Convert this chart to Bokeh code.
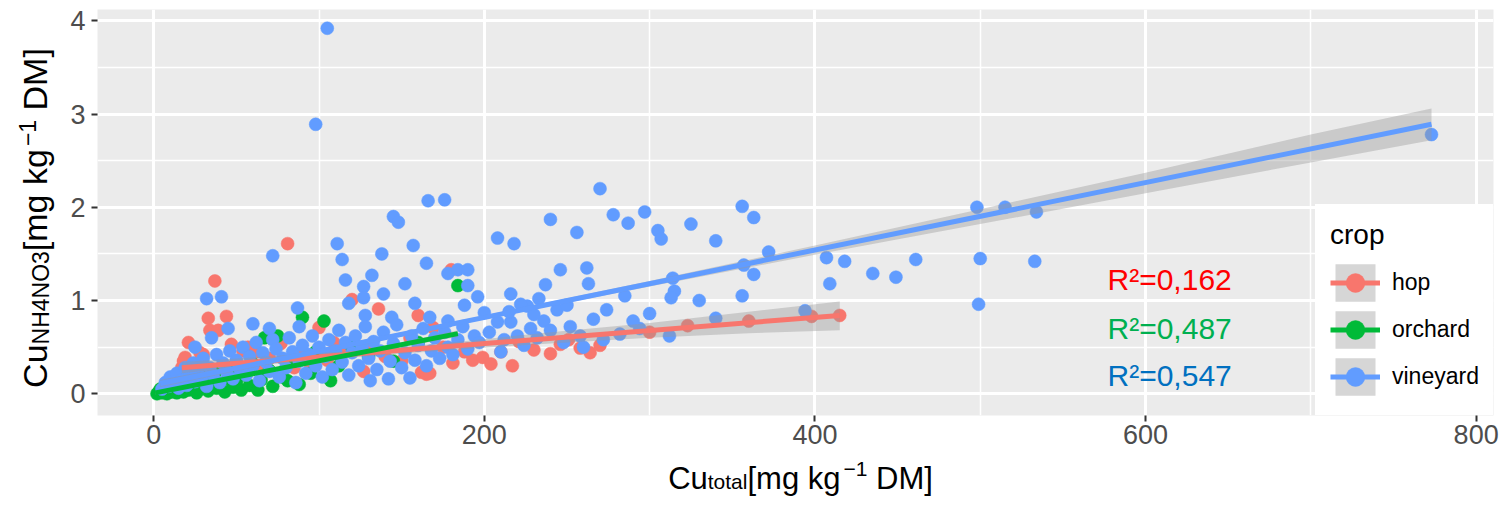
from bokeh.plotting import figure
from bokeh.layouts import row, column
from bokeh.models import Range1d, FixedTicker, Label, Legend, LegendItem
from bokeh.core.properties import value
from bokeh.embed import file_html
from bokeh.resources import INLINE

# ---------------- data ----------------
crops = ["hop", "orchard", "vineyard"]
crop_colors = ["#F8766D", "#00BA38", "#619CFF"]

hop_x = [17, 18, 19, 21, 25, 28, 30, 33, 34, 37, 39, 42, 44, 47, 50, 54, 57, 62, 66, 70,
         77, 81, 85, 88, 95, 100, 105, 109, 115, 120, 127, 132, 136, 140, 150, 155, 160,
         162, 165, 167, 169, 175, 180, 181, 188, 193, 199, 204, 210, 217, 221, 230, 240,
         246, 251, 258, 264, 270, 300, 323, 360, 398, 415]
hop_y = [0.28, 0.35, 0.39, 0.55, 0.30, 0.44, 0.42, 0.81, 0.68, 1.21, 0.68, 0.30, 0.83,
         0.53, 0.35, 0.46, 0.50, 0.45, 0.30, 0.38, 0.54, 1.61, 0.28, 0.42, 0.30, 0.71,
         0.36, 0.55, 0.45, 1.01, 0.24, 0.50, 0.91, 0.40, 0.35, 0.60, 0.84, 0.23, 0.21,
         0.22, 0.71, 0.50, 1.33, 0.33, 0.45, 0.36, 0.39, 0.32, 0.45, 0.30, 0.56, 0.47,
         0.43, 0.53, 0.58, 0.49, 0.44, 0.52, 0.66, 0.73, 0.78, 0.83, 0.84]

orchard_x = [2, 3, 4, 5, 6, 7, 8, 9, 10, 11, 12, 13, 14, 15, 17, 18, 20, 21, 23, 25, 26,
             28, 30, 31, 33, 35, 37, 38, 40, 43, 45, 47, 48, 50, 53, 55, 58, 60, 63, 65,
             67, 70, 72, 75, 78, 81, 85, 88, 90, 95, 98, 103, 107, 112, 120, 130, 145,
             160, 184]
orchard_y = [0.00, 0.02, 0.05, 0.01, 0.03, 0.08, 0.00, 0.04, 0.10, 0.02, 0.06, 0.13,
             0.01, 0.05, 0.09, 0.02, 0.15, 0.04, 0.07, 0.12, 0.01, 0.05, 0.18, 0.09,
             0.03, 0.13, 0.22, 0.06, 0.10, 0.02, 0.16, 0.28, 0.07, 0.12, 0.04, 0.20,
             0.09, 0.32, 0.04, 0.15, 0.60, 0.25, 0.08, 0.62, 0.18, 0.14, 0.35, 0.10,
             0.82, 0.22, 0.45, 0.78, 0.14, 0.30, 0.50, 0.40, 0.35, 0.55, 1.16]

vineyard_x = [105, 98, 773, 270, 166, 176, 145, 148, 240, 278, 297, 287, 325, 356, 363,
              208, 218, 111, 157, 72, 114, 138, 165, 132, 116, 127, 152, 178, 184, 190,
              190, 196, 216, 139, 127, 118, 158, 188, 32, 41, 87, 128, 144, 167, 178,
              200, 208, 216, 226,
              498, 515, 534, 500, 533, 499, 461, 435, 449, 418, 407, 409, 394, 372, 357,
              363, 356, 340, 314, 315, 313, 305, 307, 312, 274, 294, 262, 263, 256, 246,
              237, 233, 340, 330,
              203, 212, 220, 224, 228, 232, 236, 240, 244, 248, 252, 258, 266, 272, 282,
              290, 300, 210, 215, 222, 230, 250, 285, 260,
              5, 7, 9, 10, 12, 14, 15, 17, 19, 20, 22, 24, 25, 27, 29, 30, 32, 34, 36, 38,
              40, 42, 44, 46, 48, 50, 52, 54, 56, 58, 60, 62, 64, 66, 68, 70, 72, 74, 76,
              78, 80, 82, 84, 86, 88, 90, 92, 94, 96, 98, 100, 102, 104, 106, 108, 110,
              112, 114, 116, 118, 120, 122, 124, 126, 128, 130, 131, 133, 135, 137, 139,
              142, 143, 145, 147, 150, 152, 155, 156, 158, 160, 163, 165, 168, 170, 173,
              176, 178, 181, 184, 187, 190, 194, 197, 60, 45, 35, 25, 88, 70]
vineyard_y = [3.92, 2.89, 2.78, 2.20, 2.07, 2.08, 1.90, 1.84, 1.87, 1.92, 1.95, 1.83,
              1.82, 2.01, 1.89, 1.67, 1.61, 1.61, 1.59, 1.48, 1.44, 1.50, 1.40, 1.27,
              1.22, 1.15, 1.18, 1.29, 1.33, 1.33, 1.16, 1.04, 1.07, 1.07, 1.03, 0.97,
              0.97, 0.95, 1.02, 1.04, 0.92, 0.84, 0.82, 0.82, 0.78, 0.87, 0.77, 0.77,
              0.94,
              2.00, 2.00, 1.95, 1.45, 1.42, 0.96, 1.44, 1.29, 1.25, 1.42, 1.46, 1.18,
              0.89, 1.52, 1.38, 1.28, 1.05, 1.64, 1.24, 1.10, 1.03, 1.75, 1.66, 0.62,
              0.90, 0.70, 1.35, 1.18, 1.73, 1.33, 1.17, 1.02, 0.81, 1.00,
              0.66, 0.58, 0.62, 0.52, 0.70, 0.60, 0.78, 0.68, 0.90, 0.55, 0.72, 0.62,
              0.80, 0.58, 0.64, 0.78, 0.86, 0.45, 0.88, 0.96, 0.85, 0.95, 1.05, 0.50,
              0.05, 0.12, 0.08, 0.18, 0.10, 0.22, 0.06, 0.15, 0.28, 0.09, 0.20, 0.33,
              0.13, 0.25, 0.17, 0.38, 0.08, 0.28, 0.20, 0.42, 0.12, 0.33, 0.24, 0.46,
              0.16, 0.36, 0.27, 0.50, 0.20, 0.40, 0.30, 0.55, 0.14, 0.44, 0.34, 0.24,
              0.58, 0.48, 0.18, 0.38, 0.28, 0.60, 0.45, 0.12, 0.35, 0.52, 0.22, 0.42,
              0.62, 0.30, 0.50, 0.18, 0.40, 0.58, 0.26, 0.46, 0.68, 0.34, 0.55, 0.20,
              0.44, 0.62, 0.30, 0.50, 0.72, 0.38, 0.14, 0.56, 0.26, 0.46, 0.66, 0.16,
              0.35, 0.54, 0.74, 0.28, 0.44, 0.17, 0.62, 0.36, 0.52, 0.70, 0.30, 0.46,
              0.60, 0.38, 0.66, 0.50, 0.42, 0.58, 0.72, 0.48, 0.62, 0.55, 0.75, 0.70,
              0.60, 0.50, 0.72, 0.70]

# fitted lines (end points)
hop_fit_x = [17, 415]
hop_fit_y = [0.28, 0.84]
orchard_fit_x = [1, 184]
orchard_fit_y = [0.01, 0.645]
vineyard_fit_x = [4, 773]
vineyard_fit_y = [0.11, 2.89]

# confidence ribbons
hop_band_x = [17, 60, 120, 180, 240, 300, 360, 415]
hop_band_lo = [0.22, 0.30, 0.39, 0.47, 0.54, 0.60, 0.65, 0.68]
hop_band_hi = [0.34, 0.39, 0.46, 0.55, 0.66, 0.76, 0.88, 0.99]
orchard_band_x = [1, 50, 100, 150, 184]
orchard_band_lo = [-0.01, 0.168, 0.341, 0.502, 0.61]
orchard_band_hi = [0.03, 0.192, 0.365, 0.552, 0.68]
vineyard_band_x = [4, 100, 200, 300, 400, 500, 600, 700, 773]
vineyard_band_lo = [0.07, 0.43, 0.80, 1.15, 1.49, 1.82, 2.15, 2.48, 2.72]
vineyard_band_hi = [0.15, 0.48, 0.84, 1.21, 1.59, 1.98, 2.37, 2.78, 3.06]

r2_texts = ["R\u00b2=0,162", "R\u00b2=0,487", "R\u00b2=0,547"]
r2_colors = ["#FF0000", "#00B050", "#0070C0"]

x_ticks = [0, 200, 400, 600, 800]
x_minor = [100, 300, 500, 700]
y_ticks = [0, 1, 2, 3, 4]
y_minor = [0.5, 1.5, 2.5, 3.5]

FONT = "Liberation Sans"
TOTAL_W, TOTAL_H = 1511, 507
YT_W = 60            # width of the strip holding the y title
MAIN_H = 455         # height of the main figure
FL, FR, FT, FB = 97, 1493, 9, 415   # frame edges on the page
DROP = 12            # empirical shift of alphabetic baseline

# ---------------- main figure ----------------
p = figure(width=TOTAL_W - YT_W, height=MAIN_H, output_backend="svg", toolbar_location=None,
           x_range=Range1d(-34, 810.5), y_range=Range1d(-0.233, 4.121),
           min_border_left=FL - YT_W, min_border_right=TOTAL_W - FR,
           min_border_top=FT, min_border_bottom=MAIN_H - FB)
p.background_fill_color = "#EBEBEB"
p.border_fill_color = "white"
p.outline_line_color = None

p.xaxis.ticker = FixedTicker(ticks=x_ticks, minor_ticks=x_minor)
p.yaxis.ticker = FixedTicker(ticks=y_ticks, minor_ticks=y_minor)
for ax in (p.xaxis, p.yaxis):
    ax.axis_line_color = None
    ax.major_tick_in = 0
    ax.major_tick_out = 6
    ax.major_tick_line_color = "#333333"
    ax.major_tick_line_width = 2
    ax.minor_tick_line_color = None
    ax.major_label_text_font = FONT
    ax.major_label_text_font_size = "27px"
    ax.major_label_text_color = "#4D4D4D"
p.xaxis.major_label_standoff = 3
p.yaxis.major_label_standoff = 6
for g in (p.xgrid, p.ygrid):
    g.grid_line_color = "white"
    g.grid_line_width = 3
    g.minor_grid_line_color = "white"
    g.minor_grid_line_width = 1.5

series = [
    (hop_x, hop_y, hop_fit_x, hop_fit_y, hop_band_x, hop_band_lo, hop_band_hi),
    (orchard_x, orchard_y, orchard_fit_x, orchard_fit_y, orchard_band_x, orchard_band_lo, orchard_band_hi),
    (vineyard_x, vineyard_y, vineyard_fit_x, vineyard_fit_y, vineyard_band_x, vineyard_band_lo, vineyard_band_hi),
]

pts_r, band_r, line_r = [], [], []
for (sx, sy, *_), col in zip(series, crop_colors):
    pts_r.append(p.scatter(sx, sy, size=13, fill_color=col, line_color=col, line_width=0.5))
for (_, _, fx, fy, bx, blo, bhi), col in zip(series, crop_colors):
    band_r.append(p.varea(x=bx, y1=blo, y2=bhi, fill_color="#999999", fill_alpha=0.4))
for (_, _, fx, fy, bx, blo, bhi), col in zip(series, crop_colors):
    line_r.append(p.line(fx, fy, line_color=col, line_width=5))

legend = Legend(
    items=[LegendItem(label=c, renderers=[b, l, s]) for c, b, l, s in zip(crops, band_r, line_r, pts_r)],
    location=(1315 - FL, 0), title="crop",
    title_text_font=FONT, title_text_font_size="28px", title_text_color="black",
    title_text_font_style="normal", title_standoff=8,
    label_text_font=FONT, label_text_font_size="23px", label_text_color="black",
    glyph_width=50, glyph_height=47, label_height=47, spacing=0, padding=15, margin=0,
    label_standoff=12, background_fill_color="white", background_fill_alpha=1.0,
    border_line_alpha=0)
p.add_layout(legend)

# R² annotations
for txt, col, by in zip(r2_texts, r2_colors, [291, 340, 387]):
    p.add_layout(Label(x=1107 - FL, y=FB - by + DROP, x_units="screen", y_units="screen", text=txt,
                       text_font=FONT, text_font_size="30px", text_color=col,
                       text_baseline="alphabetic", text_align="left"))

# ---------------- axis titles with sub/superscripts ----------------
CW = {'C': .722, 'u': .556, 't': .278, 'o': .556, 'a': .556, 'l': .222, '[': .278,
      'm': .833, 'g': .556, ' ': .278, 'k': .5, '\u2212': .584, '1': .556, 'D': .722,
      'M': .833, ']': .278, 'N': .722, 'H': .722, '4': .556, 'O': .778, '3': .556}


def tw(s, size):
    return sum(CW.get(ch, .556) for ch in s) * size


def text_strip(w, h, top=0, bottom=0):
    # data coordinates = page pixels measured from the strip's own bottom edge
    f = figure(width=w, height=h, output_backend="svg", toolbar_location=None,
               x_range=Range1d(0, w), y_range=Range1d(bottom, h - top),
               x_axis_type=None, y_axis_type=None, min_border=0,
               min_border_top=top, min_border_bottom=bottom)
    f.outline_line_color = None
    f.grid.visible = False
    f.background_fill_color = "white"
    f.border_fill_color = "white"
    return f


def title_run(fig, pieces, center, base, vertical):
    # pieces: (text, font size, baseline shift, gap before)
    total = sum(tw(t, s) + gap for t, s, _, gap in pieces)
    pos = center - total / 2
    for t, s, shift, gap in pieces:
        pos += gap
        w = tw(t, s)
        if vertical:
            # centre-anchored pieces; em-box middle sits ~0.35em above the baseline
            fig.text(x=[base - shift - 0.35 * s], y=[pos + w / 2], text=[t], angle=1.5707963,
                     text_font=value(FONT), text_font_size=value(f"{s}px"),
                     text_color="black", text_baseline="middle", text_align="center")
        else:
            fig.text(x=[pos], y=[base + shift], text=[t], text_font=value(FONT),
                     text_font_size=value(f"{s}px"), text_color="black",
                     text_baseline="alphabetic", text_align="left")
        pos += w


X_STRIP_H = TOTAL_H - MAIN_H
xt = text_strip(TOTAL_W, X_STRIP_H)
title_run(xt, [("Cu", 31, 0, 0), ("total", 21, -3, 0), ("[mg kg", 31, 0, 0),
               ("\u22121", 21, 10, 3), ("DM]", 31, 0, 0.278 * 31)],
          center=800, base=TOTAL_H - 490 + DROP, vertical=False)

# the strip's frame lines up with the main frame (rows align frames)
yt = text_strip(YT_W, MAIN_H, top=FT, bottom=MAIN_H - FB)
title_run(yt, [("Cu", 34, 0, 0), ("NH4NO3", 23, -3, 0), ("[mg kg", 34, 0, 0),
               ("\u22121", 23, 11, 3), ("DM]", 34, 0, 0.278 * 34)],
          center=MAIN_H - 217.5, base=46, vertical=True)

layout = column(row(yt, p, spacing=0), xt, spacing=0)
open("out.html", "w").write(file_html(layout, INLINE))
